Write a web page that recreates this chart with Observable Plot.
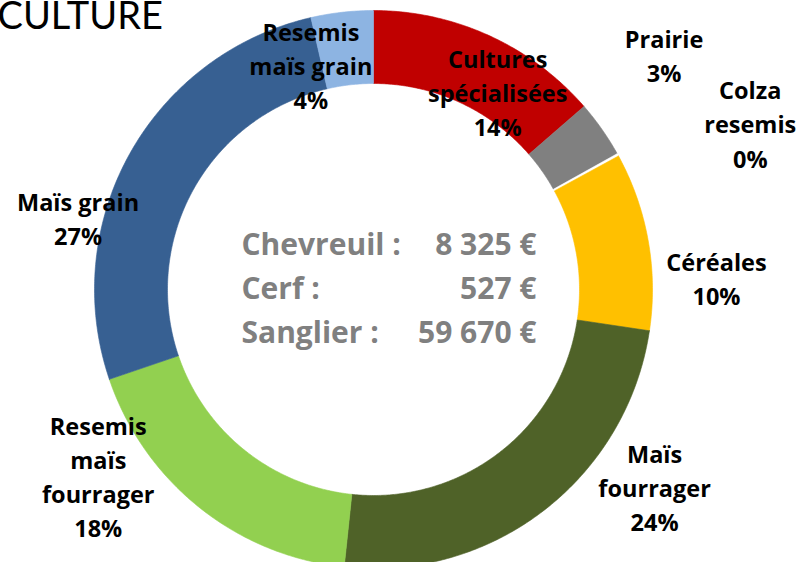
<!DOCTYPE html>
<html>
<head>
<meta charset="utf-8">
<script src="https://cdn.jsdelivr.net/npm/d3@7"></script>
<script src="https://cdn.jsdelivr.net/npm/@observablehq/plot@0.6"></script>
<style>
  html, body { margin: 0; padding: 0; background: #fff; overflow: hidden; }
  #chart svg { display: block; }
</style>
</head>
<body>
<div id="chart"></div>
<script>
// ---- Data ----
const categories = ["Cultures spécialisées", "Prairie", "Colza resemis", "Céréales", "Maïs fourrager", "Resemis maïs fourrager", "Maïs grain", "Resemis maïs grain"];
const labelLines = ["Cultures\nspécialisées", "Prairie", "Colza\nresemis", "Céréales", "Maïs\nfourrager", "Resemis\nmaïs\nfourrager", "Maïs grain", "Resemis\nmaïs grain"];
const shares = [13.6, 3.3, 0.15, 10.3, 24.3, 18.1, 26.6, 3.6];
const huntLabels = ["Chevreuil :", "Cerf :", "Sanglier :"];
const huntValues = [8325, 527, 59670];
const title = "CULTURE";

// ---- Styles / layout (kept apart from the data) ----
const palette = ["#C00000", "#808080", "#FFFFFF", "#FFC000", "#4F6228", "#92D050", "#376092", "#8DB4E2"];
// label placement in polar terms: [angle in degrees clockwise from top, radius as a fraction of outer radius]
const labelPolar = [[32, 0.84], [51, 1.34], [66.1, 1.477], [88, 1.23], [125, 1.23], [236, 1.19], [283.7, 1.09], [344.5, 0.84]];

const W = 799, H = 562;
const cx = 373, cy = 289, R = 279, rIn = 206;
const innerFrac = rIn / R;

// build ring polygons from cumulative shares
const total = d3.sum(shares);
const polys = [];
let acc = 0;
categories.forEach((cat, i) => {
  const a0 = acc / total * 2 * Math.PI;
  acc += shares[i];
  const a1 = acc / total * 2 * Math.PI;
  const n = Math.max(2, Math.ceil((a1 - a0) / (Math.PI / 360)));
  const pts = [];
  for (let k = 0; k <= n; k++) {
    const a = a0 + (a1 - a0) * k / n;
    pts.push({cat, x: Math.sin(a), y: Math.cos(a)});
  }
  for (let k = n; k >= 0; k--) {
    const a = a0 + (a1 - a0) * k / n;
    pts.push({cat, x: innerFrac * Math.sin(a), y: innerFrac * Math.cos(a)});
  }
  pts.push({...pts[0]});
  polys.push(...pts);
});

const labels = categories.map((cat, i) => {
  const [deg, r] = labelPolar[i];
  const a = deg * Math.PI / 180;
  const pct = Math.round(shares[i] / total * 100);
  return {cat, x: r * Math.sin(a), y: r * Math.cos(a), text: `${labelLines[i]}\n${pct}%`};
});

const fmt = v => d3.format(",")(v).replace(/,/g, " ") + " €";
const boldFont = "'Open Sans', Lato, sans-serif";

const chart = Plot.plot({
  width: W,
  height: H,
  margin: 0,
  style: {background: "#fff", fontFamily: "Lato, 'Open Sans', sans-serif"},
  x: {domain: [-cx / R, (W - cx) / R], axis: null},
  y: {domain: [-(H - cy) / R, cy / R], axis: null},
  color: {domain: categories, range: palette},
  marks: [
    Plot.line(polys, {x: "x", y: "y", z: "cat", fill: "cat", stroke: "cat", strokeWidth: 0.6, curve: "linear"}),
    Plot.text(labels, {x: "x", y: "y", text: "text", fontSize: 23.5, fontWeight: "bold", fontFamily: boldFont, fill: "#000", lineHeight: 1.45, lineAnchor: "middle", textAnchor: "middle"}),
    Plot.text([huntLabels.join("\n")], {x: () => 0, y: () => 0, text: d => d, textAnchor: "start", dx: -132, dy: -5, fontSize: 30, fontWeight: "bold", fontFamily: boldFont, fill: "#808080", lineHeight: 1.47, lineAnchor: "middle"}),
    Plot.text([huntValues.map(fmt).join("\n")], {x: () => 0, y: () => 0, text: d => d, textAnchor: "end", dx: 163, dy: -5, fontSize: 30, fontWeight: "bold", fontFamily: boldFont, fill: "#808080", lineHeight: 1.47, lineAnchor: "middle"}),
    Plot.text([title], {frameAnchor: "top-left", text: d => d, textAnchor: "start", fontSize: 38, dx: -3, dy: 2, fill: "#000"})
  ]
});
document.getElementById("chart").appendChild(chart);
</script>
</body>
</html>
